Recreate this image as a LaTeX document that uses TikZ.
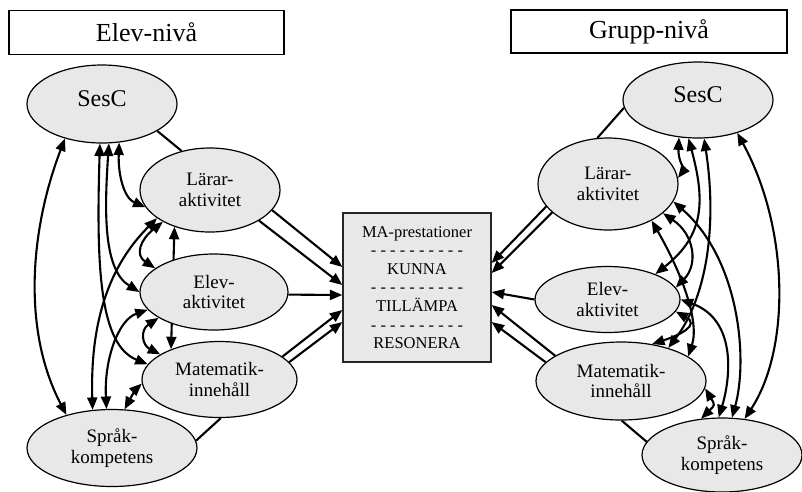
\documentclass[tikz,border=0pt]{standalone}
\usepackage{fontspec}
\setmainfont{Liberation Serif}
\usetikzlibrary{arrows.meta,shapes.geometric}
\pgfdeclarelayer{back}
\pgfsetlayers{back,main}
\tikzset{
  >={Triangle[length=12.5pt,width=10pt]},
  level/.style  = {draw, line width=1.2pt, minimum width=275pt, minimum height=44pt, inner sep=0pt, font=\fontsize{26}{30}\selectfont},
  factor/.style = {ellipse, draw, line width=1.2pt, fill=gray!18, inner sep=0pt, align=center, font=\fontsize{19}{20.5}\selectfont},
  topic/.style  = {factor, font=\fontsize{24}{26}\selectfont, text height=16pt, text depth=12pt},
  result/.style = {draw=black!85, line width=1.3pt, fill=gray!18, minimum width=148pt, minimum height=149pt, inner sep=0pt, align=center, font=\fontsize{16.5}{18.6}\selectfont},
  link/.style   = {<->, line width=2.1pt},
  feed/.style   = {->, line width=2.1pt},
  tie/.style    = {line width=2.1pt}
}
\newcommand{\dashrow}{- - - - - - - - - -}
\begin{document}
\begin{tikzpicture}[x=1pt, y=-1pt]
  \useasboundingbox (0,0) rectangle (802,491);

  %  --  headers
  \node[level] (hdrL) at (146.5,32.5) {Elev-nivå};
  \node[level, minimum width=276pt, minimum height=43pt] (hdrR) at (649,31.5) {Grupp-nivå};

  %  --  left side: pupil level
  \node[topic, minimum width=150pt, minimum height=78pt] (sesL) at (102,104) {SesC};
  \node[factor, minimum width=140pt, minimum height=84pt] (larL) at (210,190) {Lärar-\\aktivitet};
  \node[factor, minimum width=148pt, minimum height=76pt] (elevL) at (214,292) {Elev-\\aktivitet};
  \node[factor, minimum width=155pt, minimum height=76pt] (matL) at (219.5,379.5) {Matematik-\\innehåll};
  \node[factor, minimum width=170pt, minimum height=77pt] (sprL) at (112,448) {Språk-\\kompetens};

  %  --  right side: group level
  \node[topic, minimum width=150pt, minimum height=76pt] (sesR) at (698,100) {SesC};
  \node[factor, minimum width=140pt, minimum height=92pt] (larR) at (608,184) {Lärar-\\aktivitet};
  \node[factor, minimum width=145pt, minimum height=66pt] (elevR) at (607.5,299.5) {Elev-\\aktivitet};
  \node[factor, minimum width=170pt, minimum height=78pt] (matR) at (621,381) {Matematik-\\innehåll};
  \node[factor, minimum width=160pt, minimum height=74pt] (sprR) at (722,455) {Språk-\\kompetens};

  %  --  outcome box in the middle
  \node[result] (ma) at (417,287.5) {MA-prestationer\\\dashrow\\KUNNA\\\dashrow\\TILLÄMPA\\\dashrow\\RESONERA};

  \begin{pgfonlayer}{back}
    % plain ties
    \draw[tie] (sesL.-26) -- (larL.126);
    \draw[tie] (matL.-88) -- (sprL.5);
    \draw[tie] (sesR.186) -- (larR.103);
    \draw[tie] (matR.-89) -- (sprR.170);

    % into the outcome box, left
    \draw[feed] (larL.-18) -- (ma.west |- 0,267);
    \draw[feed] (larL.-32) -- (ma.west |- 0,285);
    \draw[feed] (elevL.-2) -- (ma.west |- 0,295);
    \draw[feed] (matL.20)  -- (ma.west |- 0,310);
    \draw[feed] (matL.14)  -- (ma.west |- 0,322);
    % into the outcome box, right
    \draw[feed] (larR.200) -- (ma.east |- 0,263);
    \draw[feed] (larR.207) -- (ma.east |- 0,273);
    \draw[feed] (elevR.180) -- (ma.east |- 0,292);
    \draw[feed] (matR.159) -- (ma.east |- 0,305);
    \draw[feed] (matR.166) -- (ma.east |- 0,322);

    % web between the factors, left
    \draw[link] (sesL.223) .. controls (30,230) and (22,330) .. (sprL.144);
    \draw[link] (sesL.280) .. controls (104,215) and (104,270) .. (elevL.180);
    \draw[link] (sesL.267) .. controls (96,270) and (100,345) .. (matL.168);
    \draw[link] (sesL.294) .. controls (118,175) and (124,198) .. (larL.195);
    \draw[link] (larL.208) .. controls (110,265) and (90,320) .. (sprL.117);
    \draw[link] (larL.214) .. controls (140,240) and (135,255) .. (elevL.158);
    \draw[link] (larL.226) -- (matL.148);
    \draw[link] (elevL.195) .. controls (118,320) and (104,360) .. (sprL.98);
    \draw[link] (elevL.205) .. controls (140,330) and (142,345) .. (matL.157);
    \draw[link] (matL.183) .. controls (135,390) .. (sprL.72);

    % web between the factors, right
    \draw[link] (sesR.243) .. controls (678,160) and (684,170) .. (larR.5);
    \draw[link] (sesR.256) .. controls (705,200) and (705,235) .. (elevR.28);
    \draw[link] (sesR.279) .. controls (718,230) and (705,300) .. (matR.35);
    \draw[link] (sesR.320) .. controls (790,230) and (790,350) .. (sprR.58);
    \draw[link] (larR.345) .. controls (740,260) and (748,360) .. (sprR.75);
    \draw[link] (larR.332) .. controls (695,235) and (698,265) .. (elevR.10);
    \draw[link] (larR.320) .. controls (680,270) and (700,320) .. (matR.20);
    \draw[link] (elevR.0) .. controls (738,320) and (730,380) .. (sprR.95);
    \draw[link] (elevR.350) .. controls (700,325) and (680,335) .. (matR.50);
    \draw[link] (matR.355) .. controls (715,405) .. (sprR.120);
  \end{pgfonlayer}
\end{tikzpicture}
\end{document}
